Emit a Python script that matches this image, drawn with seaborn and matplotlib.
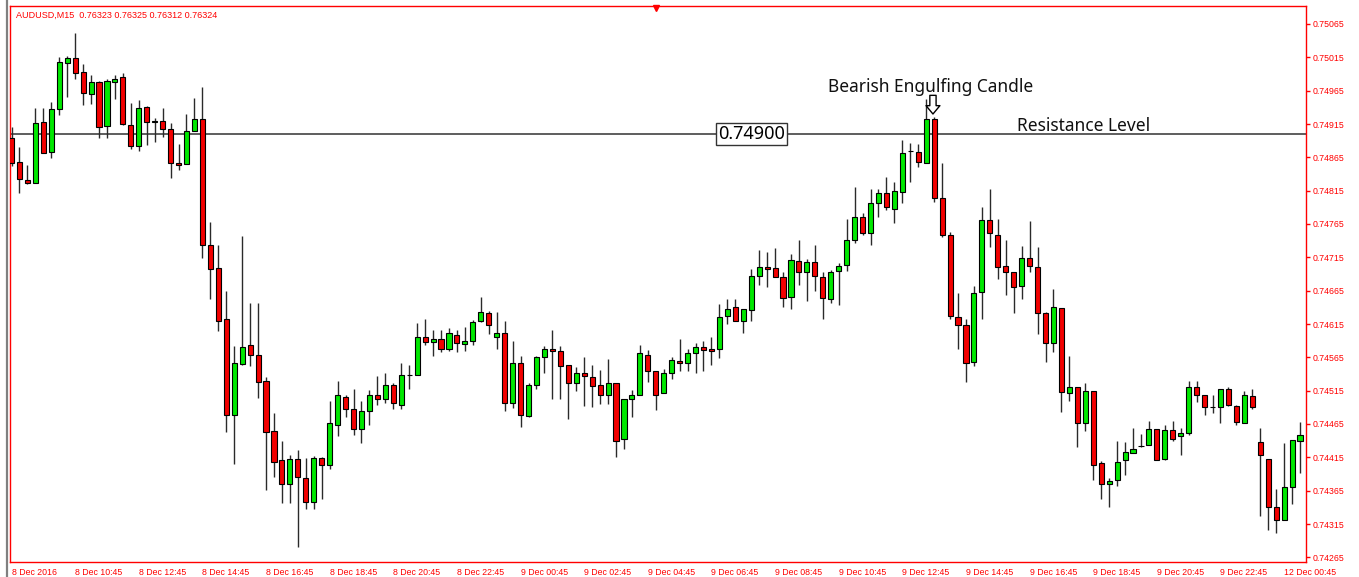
import matplotlib
matplotlib.use("Agg")
import matplotlib.pyplot as plt
import seaborn as sns
import pandas as pd
import numpy as np
from matplotlib.lines import Line2D

# AUDUSD M15 candles, 8 Dec 2016 08:45 -> 12 Dec 00:45
opens = [
    0.74894, 0.74858, 0.74831, 0.74827, 0.74918, 0.74873, 0.74937, 0.75007, 0.75014, 0.74993,
    0.74960, 0.74978, 0.74912, 0.74978, 0.74985, 0.74914, 0.74882, 0.74941, 0.74918, 0.74919,
    0.74908, 0.74857, 0.74855, 0.74905, 0.74922, 0.74733, 0.74699, 0.74622, 0.74479, 0.74555,
    0.74583, 0.74569, 0.74529, 0.74454, 0.74411, 0.74375, 0.74412, 0.74384, 0.74348, 0.74414,
    0.74403, 0.74464, 0.74506, 0.74487, 0.74457, 0.74485, 0.74508, 0.74502, 0.74524, 0.74494,
    0.74538, 0.74538, 0.74596, 0.74588, 0.74593, 0.74577, 0.74599, 0.74585, 0.74590, 0.74620,
    0.74632, 0.74596, 0.74602, 0.74496, 0.74557, 0.74477, 0.74524, 0.74565, 0.74578, 0.74574,
    0.74553, 0.74526, 0.74541, 0.74536, 0.74523, 0.74508, 0.74526, 0.74443, 0.74502, 0.74509,
    0.74569, 0.74544, 0.74511, 0.74541, 0.74559, 0.74557, 0.74572, 0.74581, 0.74578, 0.74578,
    0.74627, 0.74641, 0.74620, 0.74636, 0.74687, 0.74700, 0.74699, 0.74686, 0.74656, 0.74709,
    0.74693, 0.74708, 0.74686, 0.74652, 0.74694, 0.74703, 0.74741, 0.74776, 0.74752, 0.74796,
    0.74811, 0.74788, 0.74813, 0.74874, 0.74873, 0.74857, 0.74922, 0.74804, 0.74749, 0.74626,
    0.74614, 0.74558, 0.74663, 0.74771, 0.74749, 0.74702, 0.74693, 0.74672, 0.74714, 0.74701,
    0.74632, 0.74587, 0.74639, 0.74511, 0.74520, 0.74466, 0.74514, 0.74406, 0.74375, 0.74381,
    0.74411, 0.74422, 0.74432, 0.74433, 0.74458, 0.74412, 0.74456, 0.74447, 0.74451, 0.74520,
    0.74508, 0.74490, 0.74490, 0.74518, 0.74492, 0.74467, 0.74507, 0.74438, 0.74413, 0.74341,
    0.74321, 0.74370, 0.74440,
]
highs = [
    0.74910, 0.74880, 0.74853, 0.74939, 0.74939, 0.74948, 0.75015, 0.75017, 0.75051, 0.75005,
    0.74988, 0.74979, 0.74982, 0.74988, 0.74991, 0.74946, 0.74951, 0.74942, 0.74924, 0.74939,
    0.74916, 0.74885, 0.74930, 0.74954, 0.74970, 0.74768, 0.74733, 0.74665, 0.74582, 0.74747,
    0.74647, 0.74647, 0.74536, 0.74481, 0.74439, 0.74419, 0.74426, 0.74414, 0.74417, 0.74416,
    0.74500, 0.74529, 0.74508, 0.74518, 0.74499, 0.74516, 0.74537, 0.74541, 0.74527, 0.74556,
    0.74554, 0.74617, 0.74622, 0.74606, 0.74606, 0.74609, 0.74606, 0.74610, 0.74621, 0.74655,
    0.74634, 0.74633, 0.74619, 0.74589, 0.74567, 0.74527, 0.74567, 0.74582, 0.74606, 0.74582,
    0.74554, 0.74550, 0.74565, 0.74553, 0.74546, 0.74563, 0.74526, 0.74502, 0.74516, 0.74583,
    0.74576, 0.74544, 0.74548, 0.74565, 0.74593, 0.74578, 0.74587, 0.74590, 0.74596, 0.74645,
    0.74652, 0.74652, 0.74637, 0.74697, 0.74726, 0.74723, 0.74729, 0.74693, 0.74720, 0.74741,
    0.74712, 0.74733, 0.74693, 0.74696, 0.74707, 0.74773, 0.74820, 0.74781, 0.74817, 0.74817,
    0.74835, 0.74828, 0.74891, 0.74886, 0.74885, 0.74953, 0.74926, 0.74856, 0.74753, 0.74661,
    0.74623, 0.74672, 0.74790, 0.74817, 0.74773, 0.74741, 0.74693, 0.74732, 0.74770, 0.74731,
    0.74633, 0.74667, 0.74639, 0.74567, 0.74521, 0.74526, 0.74514, 0.74410, 0.74384, 0.74440,
    0.74438, 0.74459, 0.74450, 0.74469, 0.74458, 0.74463, 0.74469, 0.74459, 0.74529, 0.74529,
    0.74509, 0.74508, 0.74518, 0.74520, 0.74493, 0.74514, 0.74518, 0.74459, 0.74413, 0.74368,
    0.74436, 0.74441, 0.74468,
]
lows = [
    0.74852, 0.74811, 0.74825, 0.74826, 0.74871, 0.74864, 0.74928, 0.74955, 0.74982, 0.74943,
    0.74945, 0.74894, 0.74894, 0.74952, 0.74913, 0.74877, 0.74874, 0.74883, 0.74888, 0.74895,
    0.74834, 0.74846, 0.74855, 0.74904, 0.74714, 0.74652, 0.74604, 0.74453, 0.74405, 0.74553,
    0.74552, 0.74504, 0.74366, 0.74385, 0.74346, 0.74346, 0.74281, 0.74338, 0.74337, 0.74352,
    0.74398, 0.74447, 0.74476, 0.74449, 0.74437, 0.74464, 0.74494, 0.74496, 0.74487, 0.74487,
    0.74518, 0.74538, 0.74583, 0.74567, 0.74573, 0.74574, 0.74573, 0.74575, 0.74583, 0.74618,
    0.74600, 0.74577, 0.74485, 0.74489, 0.74461, 0.74476, 0.74517, 0.74542, 0.74502, 0.74502,
    0.74472, 0.74515, 0.74492, 0.74490, 0.74495, 0.74495, 0.74415, 0.74428, 0.74476, 0.74509,
    0.74528, 0.74486, 0.74511, 0.74532, 0.74545, 0.74545, 0.74541, 0.74545, 0.74553, 0.74564,
    0.74615, 0.74620, 0.74602, 0.74620, 0.74673, 0.74671, 0.74685, 0.74640, 0.74638, 0.74673,
    0.74649, 0.74664, 0.74623, 0.74647, 0.74643, 0.74695, 0.74736, 0.74748, 0.74734, 0.74776,
    0.74786, 0.74767, 0.74796, 0.74828, 0.74850, 0.74856, 0.74798, 0.74746, 0.74622, 0.74578,
    0.74528, 0.74552, 0.74623, 0.74731, 0.74683, 0.74658, 0.74631, 0.74652, 0.74693, 0.74600,
    0.74558, 0.74573, 0.74483, 0.74500, 0.74430, 0.74455, 0.74381, 0.74353, 0.74340, 0.74372,
    0.74388, 0.74422, 0.74431, 0.74433, 0.74411, 0.74411, 0.74440, 0.74419, 0.74449, 0.74498,
    0.74478, 0.74481, 0.74466, 0.74492, 0.74464, 0.74466, 0.74487, 0.74327, 0.74306, 0.74302,
    0.74321, 0.74345, 0.74392,
]
closes = [
    0.74856, 0.74832, 0.74826, 0.74917, 0.74872, 0.74937, 0.75008, 0.75014, 0.74992, 0.74961,
    0.74978, 0.74910, 0.74980, 0.74983, 0.74915, 0.74882, 0.74939, 0.74918, 0.74920, 0.74908,
    0.74857, 0.74854, 0.74905, 0.74922, 0.74734, 0.74698, 0.74620, 0.74478, 0.74557, 0.74581,
    0.74569, 0.74528, 0.74453, 0.74408, 0.74375, 0.74412, 0.74386, 0.74348, 0.74414, 0.74403,
    0.74466, 0.74508, 0.74488, 0.74458, 0.74485, 0.74508, 0.74502, 0.74524, 0.74496, 0.74538,
    0.74538, 0.74596, 0.74588, 0.74593, 0.74577, 0.74601, 0.74587, 0.74590, 0.74618, 0.74633,
    0.74614, 0.74602, 0.74496, 0.74556, 0.74478, 0.74523, 0.74565, 0.74578, 0.74575, 0.74552,
    0.74527, 0.74541, 0.74537, 0.74522, 0.74508, 0.74526, 0.74440, 0.74502, 0.74509, 0.74572,
    0.74544, 0.74509, 0.74541, 0.74561, 0.74556, 0.74572, 0.74581, 0.74576, 0.74575, 0.74626,
    0.74638, 0.74620, 0.74637, 0.74687, 0.74701, 0.74697, 0.74685, 0.74654, 0.74711, 0.74693,
    0.74708, 0.74687, 0.74654, 0.74693, 0.74702, 0.74741, 0.74776, 0.74752, 0.74796, 0.74811,
    0.74790, 0.74815, 0.74872, 0.74874, 0.74858, 0.74922, 0.74804, 0.74749, 0.74627, 0.74614,
    0.74557, 0.74662, 0.74771, 0.74751, 0.74701, 0.74693, 0.74671, 0.74714, 0.74702, 0.74632,
    0.74586, 0.74640, 0.74513, 0.74520, 0.74467, 0.74514, 0.74404, 0.74375, 0.74380, 0.74408,
    0.74423, 0.74428, 0.74432, 0.74458, 0.74411, 0.74456, 0.74442, 0.74451, 0.74521, 0.74508,
    0.74490, 0.74490, 0.74518, 0.74493, 0.74468, 0.74508, 0.74490, 0.74418, 0.74341, 0.74321,
    0.74370, 0.74441, 0.74448,
]

time_labels = [
    "8 Dec 2016", "8 Dec 10:45", "8 Dec 12:45", "8 Dec 14:45", "8 Dec 16:45",
    "8 Dec 18:45", "8 Dec 20:45", "8 Dec 22:45", "9 Dec 00:45", "9 Dec 02:45",
    "9 Dec 04:45", "9 Dec 06:45", "9 Dec 08:45", "9 Dec 10:45", "9 Dec 12:45",
    "9 Dec 14:45", "9 Dec 16:45", "9 Dec 18:45", "9 Dec 20:45", "9 Dec 22:45",
    "12 Dec 00:45",
]
price_ticks = [
    0.74265, 0.74315, 0.74365, 0.74415, 0.74465, 0.74515, 0.74565, 0.74615, 0.74665,
    0.74715, 0.74765, 0.74815, 0.74865, 0.74915, 0.74965, 0.75015, 0.75065,
]
resistance = 0.74900
engulfing_bar = 115  # the red candle that swallows the green one before it

df = pd.DataFrame({"open": opens, "high": highs, "low": lows, "close": closes})
df["bar"] = np.arange(len(df))
df["body_low"] = df[["open", "close"]].min(axis=1)
df["body_h"] = (df["close"] - df["open"]).abs()
df["color"] = np.where(df["close"] >= df["open"], "#00e800", "#f20000")

sns.set_style("white")
plt.rcParams["font.family"] = ["Liberation Sans", "DejaVu Sans"]

W, H = 1359, 577
fig = plt.figure(figsize=(W / 100, H / 100), dpi=100)
ax = fig.add_axes([10 / W, 15 / H, 1296 / W, 556 / H])

# resistance line under the candles
ax.axhline(resistance, color="#505050", lw=1.3, zorder=1)

# wicks then bodies
ax.vlines(df["bar"], df["low"], df["high"], color="#2a2a2a", lw=1.0, zorder=2)
ax.bar(df["bar"], df["body_h"], bottom=df["body_low"], width=0.64,
       color=df["color"], edgecolor="black", linewidth=0.8, zorder=3)

ax.set_xlim(-0.19, 162.75)
ax.set_ylim(0.74258, 0.75092)

# MT4-like axes: red frame, prices on the right, dates below
for s in ax.spines.values():
    s.set_color("red")
    s.set_linewidth(1.0)
ax.yaxis.tick_right()
ax.set_yticks(price_ticks)
ax.set_yticklabels([f"{v:.5f}" for v in price_ticks])
ax.set_xticks(np.arange(0, 8 * len(time_labels), 8))
ax.set_xticklabels(time_labels, ha="left")
ax.tick_params(axis="both", colors="red", labelsize=6.3, length=3, width=1,
               direction="out")
ax.tick_params(axis="x", pad=1.5)
ax.tick_params(axis="y", pad=2)
ax.grid(False)

# annotations
ann_font = ["Noto Sans", "DejaVu Sans"]
ax.text(93.0, resistance, "0.74900", family=ann_font, fontsize=13, color="black",
        ha="center", va="center", zorder=5,
        bbox=dict(boxstyle="square,pad=0.12", fc="white", ec="#333333", lw=1.0))
ax.text(126.4, 0.74904, "Resistance Level", family=ann_font, fontsize=12.5,
        color="#111111", ha="left", va="baseline")
ax.text(102.6, 0.74963, "Bearish Engulfing Candle", family=ann_font, fontsize=12.5,
        color="#111111", ha="left", va="baseline")
ax.annotate("", xy=(engulfing_bar + 0.85, 0.74930), xytext=(engulfing_bar + 0.85, 0.74958),
            arrowprops=dict(arrowstyle="simple,head_width=1.0,head_length=0.6,tail_width=0.45",
                            fc="white", ec="black", lw=1.0, mutation_scale=10,
                            shrinkA=0, shrinkB=0), zorder=6)

# chart header and shift marker
fig.text(16 / W, 1 - 17.5 / H, "AUDUSD,M15  0.76323 0.76325 0.76312 0.76324",
         color="red", fontsize=6.5, va="baseline")
ax.plot([0.4985], [0.996], marker="v", ms=5, color="red", transform=ax.transAxes,
        clip_on=False, zorder=7)
fig.add_artist(Line2D([7 / W, 7 / W], [0, 1], color="#808080", lw=1.6,
                      transform=fig.transFigure))

fig.savefig("out.png", dpi=100, facecolor="white")
